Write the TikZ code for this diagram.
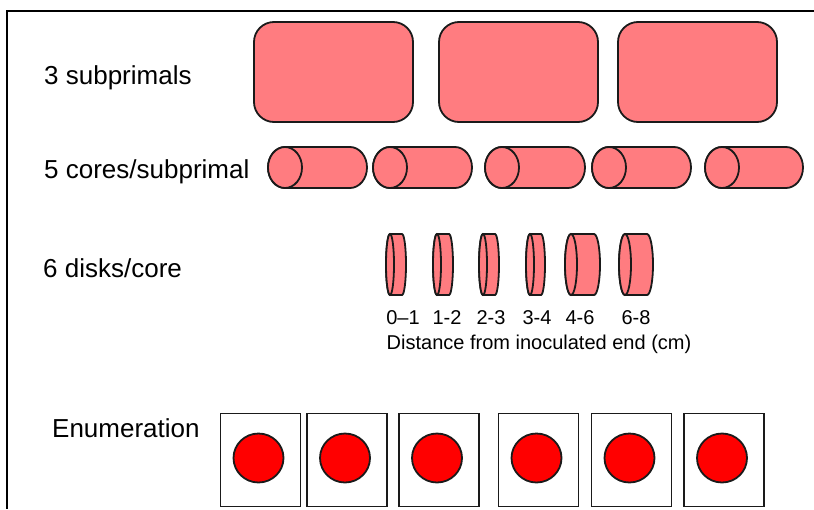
\documentclass[tikz,border=0pt]{standalone}
\usepackage{fontspec}
\setmainfont{Liberation Sans}
\usetikzlibrary{shapes.geometric}
\definecolor{pinkfill}{RGB}{255,124,128}
\definecolor{edgecol}{RGB}{26,26,26}
\tikzset{
  frameline/.style={line width=2pt, black},
  subprimal/.style={draw=edgecol, fill=pinkfill, line width=1.8pt, rounded corners=20pt,
    minimum width=159pt, minimum height=100pt, inner sep=0pt},
  cylbody/.style={draw=edgecol, fill=pinkfill, line width=1.8pt},
  rowlabel/.style={font=\fontsize{26}{30}\selectfont, anchor=base west, inner sep=0pt},
  smalllabel/.style={font=\fontsize{20}{24}\selectfont, anchor=base, inner sep=0pt},
  platebox/.style={draw=edgecol, line width=1.8pt, minimum width=80pt, minimum height=93pt, inner sep=0pt},
  colony/.style={ellipse, draw=edgecol, fill=red, line width=1.8pt,
    minimum width=50pt, minimum height=49pt, inner sep=0pt},
}
% #1 left face centre x, #2 right end centre x, #3 centre y, #4 x radius, #5 y radius
\newcommand{\horizcyl}[5]{%
  \filldraw[cylbody] (#1,{#3-#5}) -- (#2,{#3-#5})
    arc[start angle=90, end angle=-90, x radius=#4pt, y radius=#5pt]
    -- (#1,{#3+#5})
    arc[start angle=270, end angle=90, x radius=#4pt, y radius=#5pt] -- cycle;
  \filldraw[cylbody] (#1,#3) ellipse[x radius=#4pt, y radius=#5pt];
}
\begin{document}
\begin{tikzpicture}[x=1pt, y=-1pt]
\useasboundingbox (0,0) rectangle (814,509);
\fill[white] (0,0) rectangle (814,509);
\draw[frameline] (814,11) -- (7,11) -- (7,509);

% row labels
\node[rowlabel] (lsub) at (44,84) {3 subprimals};
\node[rowlabel] (lcore) at (44,178) {5 cores/subprimal};
\node[rowlabel] (ldisk) at (43,277) {6 disks/core};
\node[rowlabel] (lenum) at (52,437) {Enumeration};

% subprimals
\node[subprimal] (s1) at (333.5,72) {};
\node[subprimal] (s2) at (518.5,72) {};
\node[subprimal] (s3) at (697.5,72) {};

% cores
\horizcyl{285}{350}{167.5}{17}{20.5}
\horizcyl{390}{455}{167.5}{17}{20.5}
\horizcyl{502}{568}{167.5}{17}{20.5}
\horizcyl{609}{674}{167.5}{17}{20.5}
\horizcyl{722}{786}{167.5}{17}{20.5}

% disks
\horizcyl{390}{402}{264.5}{4}{30.5}
\horizcyl{437}{449}{264.5}{4}{30.5}
\horizcyl{483}{495}{264.5}{4}{30.5}
\horizcyl{530}{541}{264.5}{4}{30.5}
\horizcyl{571}{594}{264.5}{6}{30.5}
\horizcyl{625}{647}{264.5}{6}{30.5}

% disk labels
\node[smalllabel] (d1) at (403,324) {0–1};
\node[smalllabel] (d2) at (447,324) {1-2};
\node[smalllabel] (d3) at (491,324) {2-3};
\node[smalllabel] (d4) at (537,324) {3-4};
\node[smalllabel] (d5) at (580,324) {4-6};
\node[smalllabel] (d6) at (636,324) {6-8};
\node[smalllabel] (dist) at (539,349) {Distance from inoculated end (cm)};

% enumeration plates
\foreach \i/\x in {1/260.5, 2/347, 3/439, 4/538.5, 5/631.5, 6/724} {
  \node[platebox] (p\i) at (\x,460) {};
  \node[colony] (c\i) at ({\x-2},458) {};
}
\end{tikzpicture}
\end{document}
